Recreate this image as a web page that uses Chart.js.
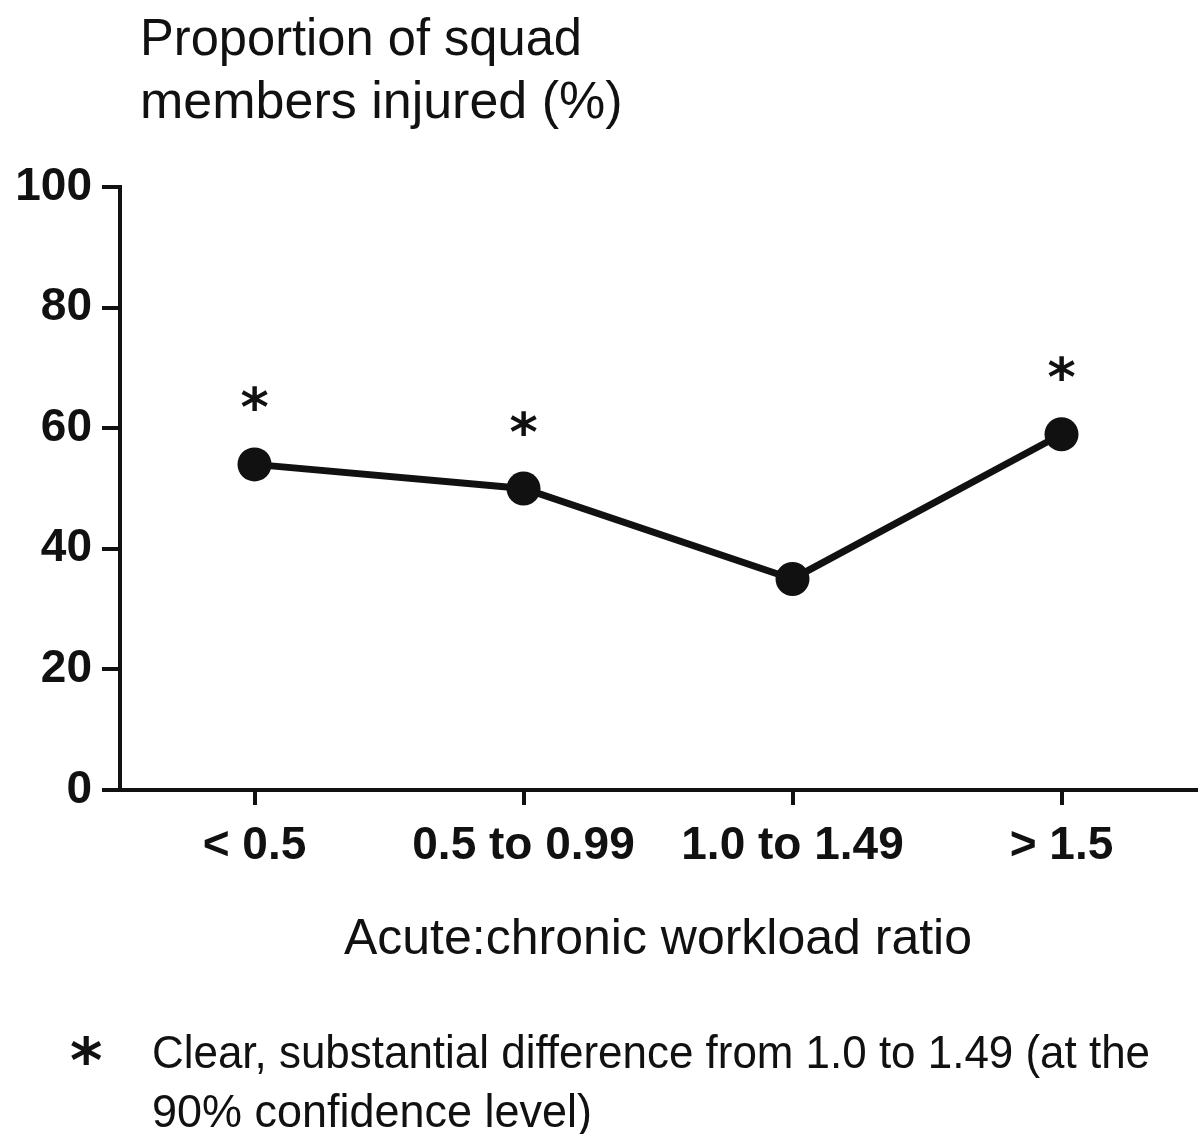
<!DOCTYPE html>
<html>
<head>
<meta charset="utf-8">
<script src="https://cdn.jsdelivr.net/npm/chart.js@4.4.1/dist/chart.umd.min.js"></script>
<style>
  html, body { margin: 0; padding: 0; background: #fff; }
  #wrap { width: 1198px; height: 1134px; position: relative; }
</style>
</head>
<body>
<div id="wrap"><canvas id="injuryChart"></canvas></div>
<script>
// ratio bands and the share of the squad injured in each
var ratioBands = ["< 0.5", "0.5 to 0.99", "1.0 to 1.49", "> 1.5"];
var injuredPct = [54, 50, 35, 59];
// bands that differ clearly from 1.0 to 1.49
var clearDiff = [true, true, false, true];
var yTicks = [0, 20, 40, 60, 80, 100];

var ink = '#111';
var sansFont = '"Liberation Sans", Arial, Helvetica, sans-serif';

// asterisks over the flagged points
var starPlugin = {
  id: 'stars',
  afterDatasetsDraw: function(chart) {
    var ctx = chart.ctx;
    var meta = chart.getDatasetMeta(0);
    ctx.save();
    ctx.fillStyle = ink;
    ctx.font = 'bold 54px "DejaVu Sans", sans-serif';
    ctx.textAlign = 'center';
    ctx.textBaseline = 'alphabetic';
    meta.data.forEach(function(pt, i) {
      if (clearDiff[i]) {
        ctx.fillText('*', pt.x, pt.y - 38);
      }
    });
    ctx.restore();
  }
};

// y axis caption at the top and the footnote under the chart
var notesPlugin = {
  id: 'notes',
  afterDraw: function(chart) {
    var ctx = chart.ctx;
    ctx.save();
    ctx.fillStyle = ink;
    ctx.textAlign = 'left';
    ctx.textBaseline = 'alphabetic';
    ctx.font = '52px ' + sansFont;
    ctx.fillText('Proportion of squad', 140, 55, 442);
    ctx.fillText('members injured (%)', 140, 118, 486);

    ctx.font = 'bold 62px "DejaVu Sans", sans-serif';
    ctx.fillText('*', 70, 1082);
    ctx.font = '46px ' + sansFont;
    ctx.fillText('Clear, substantial difference from 1.0 to 1.49 (at the', 152, 1068, 998);
    ctx.fillText('90% confidence level)', 152, 1127, 440);
    ctx.restore();
  }
};

new Chart(document.getElementById('injuryChart'), {
  type: 'line',
  data: {
    labels: ratioBands,
    datasets: [{
      data: injuredPct,
      borderColor: ink,
      borderWidth: 7,
      pointRadius: 17,
      pointBackgroundColor: ink,
      pointBorderColor: ink,
      pointBorderWidth: 0,
      tension: 0,
      fill: false
    }]
  },
  options: {
    responsive: true,
    maintainAspectRatio: false,
    animation: false,
    events: [],
    layout: {
      autoPadding: false,
      padding: { top: 187, right: 2, bottom: 150, left: 0 }
    },
    plugins: {
      legend: { display: false },
      tooltip: { enabled: false }
    },
    scales: {
      x: {
        type: 'category',
        offset: true,
        afterFit: function(scale) { scale.height = 194; },
        grid: {
          display: true,
          drawOnChartArea: false,
          drawTicks: true,
          tickLength: 15,
          lineWidth: 4,
          color: ink
        },
        border: { display: true, width: 4, color: ink },
        ticks: {
          color: ink,
          padding: 14,
          maxRotation: 0,
          autoSkip: false,
          font: { family: sansFont, size: 46, weight: 'bold' }
        },
        title: {
          display: true,
          text: 'Acute:chronic workload ratio',
          color: ink,
          padding: { top: 0, bottom: 14 },
          font: { family: sansFont, size: 50, weight: 'normal' }
        }
      },
      y: {
        min: 0,
        max: 100,
        afterFit: function(scale) { scale.width = 120; },
        afterBuildTicks: function(scale) {
          scale.ticks = yTicks.map(function(v) { return { value: v }; });
        },
        grid: {
          display: true,
          drawOnChartArea: false,
          drawTicks: true,
          tickLength: 18,
          lineWidth: 4,
          color: ink
        },
        border: { display: true, width: 4, color: ink },
        ticks: {
          color: ink,
          padding: 10,
          font: { family: sansFont, size: 46, weight: 'bold' }
        }
      }
    }
  },
  plugins: [starPlugin, notesPlugin]
});
</script>
</body>
</html>
